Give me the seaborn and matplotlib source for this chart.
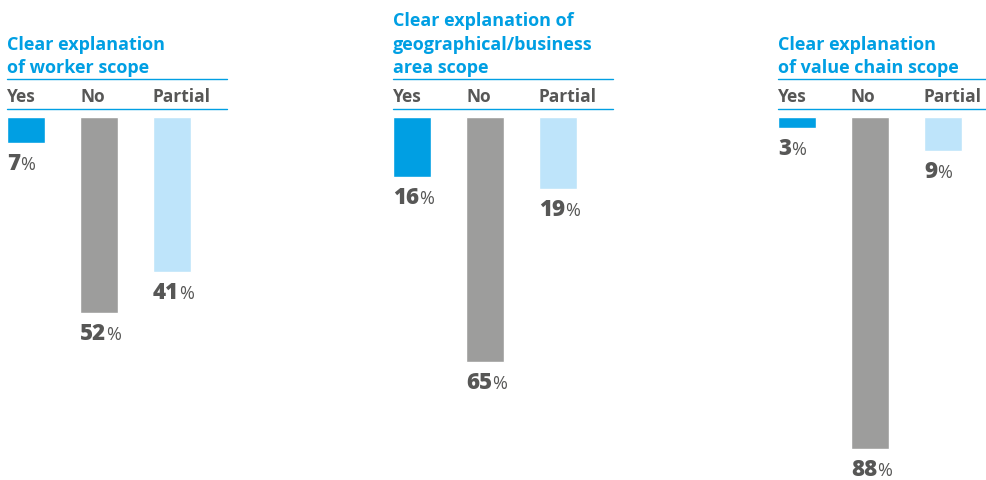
import matplotlib
matplotlib.use("Agg")
import matplotlib.pyplot as plt
import matplotlib.transforms as mtransforms
from matplotlib.lines import Line2D
import seaborn as sns

# data
categories = ["Yes", "No", "Partial"]
titles = [
    ["Clear explanation", "of worker scope"],
    ["Clear explanation of", "geographical/business", "area scope"],
    ["Clear explanation", "of value chain scope"],
]
worker_scope = [7, 52, 41]
geo_scope = [16, 65, 19]
value_chain_scope = [3, 88, 9]
panel_values = [worker_scope, geo_scope, value_chain_scope]

BAR_COLORS = ["#009FE3", "#9D9D9C", "#BEE4FA"]
BLUE = "#009FE3"
GREY_TXT = "#575756"
FONT = ["Open Sans", "DejaVu Sans"]

W, H = 987, 481
sns.set_style("white")
plt.rcParams["font.family"] = FONT

fig = plt.figure(figsize=(W / 100, H / 100), dpi=100)

panel_left = [7, 393, 778]   # px, left edge of the "Yes" bar
step = 73.0                  # px per category
bar_w = 38 / step
panel_w = 220
bar_top = 118                # px from top
px_per_pct = 3.775


def fy(y):
    return 1 - y / H


for left, title, vals in zip(panel_left, titles, panel_values):
    ax_h = H - bar_top
    ax = fig.add_axes([left / W, 0, panel_w / W, ax_h / H])
    sns.barplot(x=categories, y=vals, hue=categories, palette=BAR_COLORS,
                width=bar_w, legend=False, ax=ax, saturation=1)
    x0 = -bar_w / 2
    ax.set_xlim(x0, x0 + panel_w / step)
    ax.set_ylim(ax_h / px_per_pct, 0)
    ax.axis("off")

    # title lines, bottom line baseline at 73px
    n = len(title)
    for k, line in enumerate(title):
        base = 73 - (n - 1 - k) * 23.5
        fig.text(left / W, fy(base), line, color=BLUE, fontsize=13,
                 fontweight="bold", ha="left", va="baseline")

    # rules
    for yy in (80, 110):
        fig.add_artist(Line2D([left / W, (left + panel_w) / W], [fy(yy), fy(yy)],
                              color=BLUE, lw=1.0, transform=fig.transFigure))

    # category labels
    trans = mtransforms.blended_transform_factory(ax.transData, fig.transFigure)
    for i, cat in enumerate(categories):
        ax.text(i - bar_w / 2, fy(102), cat, transform=trans, color=GREY_TXT,
                fontsize=12.5, fontweight="bold", ha="left", va="baseline")

    # value labels
    renderer = fig.canvas.get_renderer()
    for i, v in enumerate(vals):
        t = ax.annotate(f"{v}", xy=(i - bar_w / 2, v), xycoords="data",
                        xytext=(0, -26), textcoords="offset pixels",
                        color=GREY_TXT, fontsize=16, fontweight="heavy",
                        ha="left", va="baseline", annotation_clip=False)
        wpx = t.get_window_extent(renderer).width
        ax.annotate("%", xy=(i - bar_w / 2, v), xycoords="data",
                    xytext=(wpx, -26), textcoords="offset pixels",
                    color=GREY_TXT, fontsize=13, ha="left", va="baseline",
                    annotation_clip=False)

fig.savefig("out.png", dpi=100)
plt.close(fig)
